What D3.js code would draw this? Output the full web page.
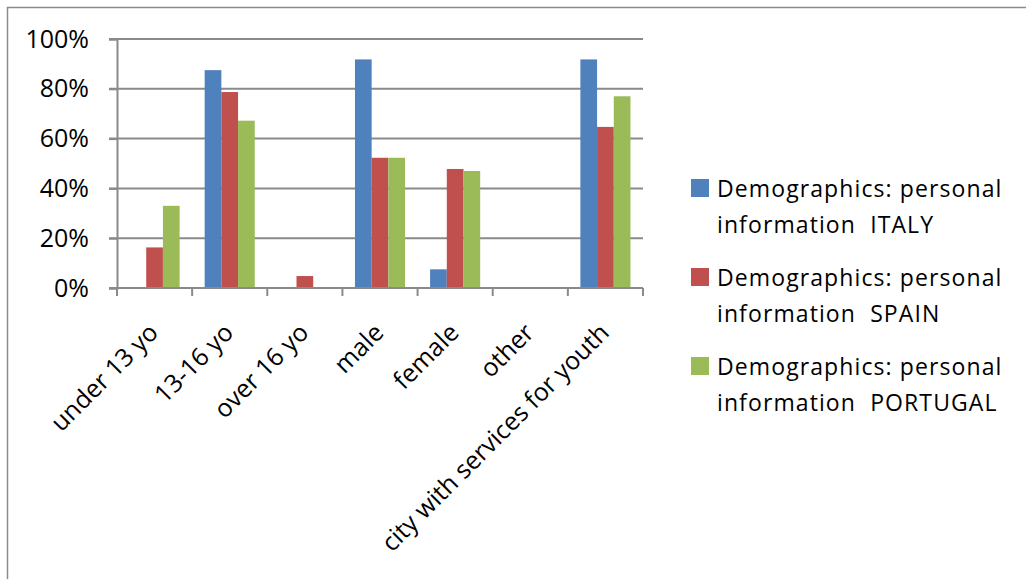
<!DOCTYPE html>
<html>
<head>
<meta charset="utf-8">
<script src="https://cdn.jsdelivr.net/npm/d3@7"></script>
<style>
  html, body { margin: 0; padding: 0; background: #fff; }
  svg { display: block; font-family: "Open Sans", "Liberation Sans", sans-serif; }
</style>
</head>
<body>
<div id="chart"></div>
<script>
// categories on the x axis
const categories = ["under 13 yo", "13-16 yo", "over 16 yo", "male", "female", "other", "city with services for youth"];
// one array per country (share of respondents)
const italy    = [0.00, 0.875, 0.00, 0.918, 0.075, 0.00, 0.918];
const spain    = [0.163, 0.787, 0.048, 0.523, 0.478, 0.00, 0.647];
const portugal = [0.33, 0.672, 0.00, 0.523, 0.47, 0.00, 0.77];
const seriesNames = [
  ["Demographics: personal", "information  ITALY"],
  ["Demographics: personal", "information  SPAIN"],
  ["Demographics: personal", "information  PORTUGAL"]
];
const yTicks = [0, 0.2, 0.4, 0.6, 0.8, 1.0];

const colors = ["#4F81BD", "#C0504D", "#9BBB59"];
const seriesValues = [italy, spain, portugal];

const width = 1026, height = 579;
const plot = { left: 117, right: 643, top: 39, bottom: 288 };

const svg = d3.select("#chart").append("svg")
  .attr("width", width)
  .attr("height", height);

// outer chart frame
svg.append("rect")
  .attr("x", 7.5).attr("y", 7.5)
  .attr("width", width + 10).attr("height", height + 10)
  .attr("fill", "none")
  .attr("stroke", "#8a8a8a")
  .attr("stroke-width", 1.5);

const x0 = d3.scaleBand()
  .domain(categories)
  .range([plot.left, plot.right])
  .padding(0);

// Excel style gap width 150%: bar = band / 4.5
const bw = x0.bandwidth();
const gap = bw * 0.75 / 4.5;
const x1 = d3.scaleBand()
  .domain(d3.range(seriesValues.length))
  .range([gap, bw - gap])
  .padding(0);

const y = d3.scaleLinear()
  .domain([0, 1])
  .range([plot.bottom, plot.top]);

// gridlines
svg.append("g")
  .selectAll("line")
  .data(yTicks)
  .enter()
  .append("line")
  .attr("x1", plot.left - 8)
  .attr("x2", plot.right)
  .attr("y1", d => y(d))
  .attr("y2", d => y(d))
  .attr("stroke", "#8a8a8a")
  .attr("stroke-width", 2);

// y axis
const yAxis = svg.append("g")
  .attr("transform", `translate(${plot.left},0)`)
  .call(d3.axisLeft(y).tickValues(yTicks).tickFormat(d3.format(".0%")).tickSize(8).tickPadding(20));
yAxis.select(".domain").attr("stroke", "#8a8a8a").attr("stroke-width", 2);
yAxis.selectAll(".tick line").attr("stroke", "#8a8a8a").attr("stroke-width", 2);
yAxis.selectAll("text")
  .style("font-size", "25px")
  .style("fill", "#000")
  .style("font-family", "'Open Sans', sans-serif");

// bars
const groups = svg.append("g")
  .selectAll("g")
  .data(categories)
  .enter()
  .append("g")
  .attr("transform", d => `translate(${x0(d)},0)`);

groups.selectAll("rect")
  .data((d, i) => seriesValues.map((s, k) => ({ k: k, v: s[i] })))
  .enter()
  .append("rect")
  .attr("x", d => x1(d.k))
  .attr("y", d => y(d.v))
  .attr("width", x1.bandwidth())
  .attr("height", d => y(0) - y(d.v))
  .attr("fill", d => colors[d.k]);

// x axis line and ticks at category boundaries
const xAxis = svg.append("g");
xAxis.append("line")
  .attr("x1", plot.left).attr("x2", plot.right)
  .attr("y1", plot.bottom).attr("y2", plot.bottom)
  .attr("stroke", "#8a8a8a").attr("stroke-width", 2);
xAxis.selectAll(".xt")
  .data(categories.concat(["end"]))
  .enter()
  .append("line")
  .attr("class", "xt")
  .attr("x1", (d, i) => plot.left + i * bw)
  .attr("x2", (d, i) => plot.left + i * bw)
  .attr("y1", plot.bottom)
  .attr("y2", plot.bottom + 8)
  .attr("stroke", "#8a8a8a").attr("stroke-width", 2);

// rotated category labels
xAxis.selectAll(".xl")
  .data(categories)
  .enter()
  .append("text")
  .attr("class", "xl")
  .attr("transform", d => `translate(${x0(d) + bw / 2 - 1},${plot.bottom + 40}) rotate(-45)`)
  .attr("text-anchor", "end")
  .attr("dy", "0.35em")
  .style("font-size", "25px")
  .style("fill", "#000")
  .text(d => d);

// legend
const legend = svg.append("g")
  .selectAll("g")
  .data(seriesNames)
  .enter()
  .append("g")
  .attr("transform", (d, i) => `translate(691,${179 + i * 89})`);

legend.append("rect")
  .attr("width", 18)
  .attr("height", 18)
  .attr("fill", (d, i) => colors[i]);

legend.each(function (d) {
  const g = d3.select(this);
  d.forEach((line, j) => {
    g.append("text")
      .attr("x", 26)
      .attr("y", 18 + j * 36)
      .attr("xml:space", "preserve")
      .style("white-space", "pre")
      .style("font-size", "23px")
      .style("letter-spacing", "1.1px")
      .style("fill", "#000")
      .text(line);
  });
});
</script>
</body>
</html>
